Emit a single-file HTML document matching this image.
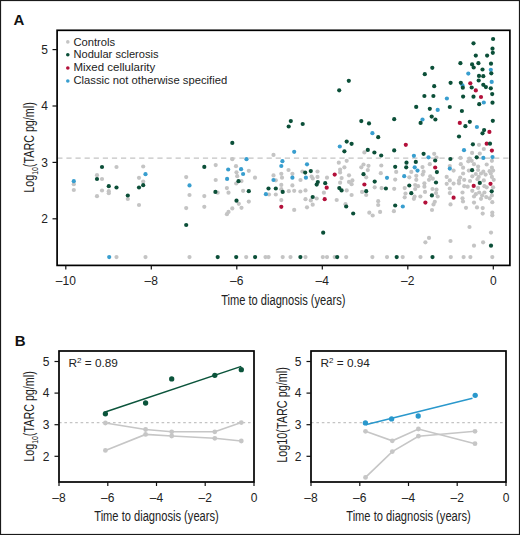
<!DOCTYPE html>
<html><head><meta charset="utf-8"><style>
html,body{margin:0;padding:0;background:#fff;}
body{width:520px;height:535px;overflow:hidden;}
svg{display:block;}
text{font-family:"Liberation Sans", sans-serif;}
</style></head><body>
<svg width="520" height="535" viewBox="0 0 520 535">
<rect x="0" y="0" width="520" height="535" fill="#fff"/>
<rect x="0.5" y="0.5" width="519" height="534" fill="none" stroke="#1a1a1a" stroke-width="1.2"/>
<text x="13.4" y="24.5" font-size="15" font-weight="bold" fill="#111">A</text>
<text x="14.8" y="345.9" font-size="15" font-weight="bold" fill="#111">B</text>

<!-- Panel A -->
<line x1="57.1" x2="509.9" y1="158.2" y2="158.2" stroke="#c4c4c4" stroke-width="1.3" stroke-dasharray="5.2,3.9" stroke-dashoffset="-0.2"/>
<g><circle cx="73.8" cy="184.2" r="2.1" fill="#c4c4c4"/>
<circle cx="73.8" cy="190.0" r="2.1" fill="#c4c4c4"/>
<circle cx="116.5" cy="167.0" r="2.1" fill="#c4c4c4"/>
<circle cx="143.2" cy="166.5" r="2.1" fill="#c4c4c4"/>
<circle cx="97.0" cy="175.2" r="2.1" fill="#c4c4c4"/>
<circle cx="102.0" cy="179.0" r="2.1" fill="#c4c4c4"/>
<circle cx="102.0" cy="190.5" r="2.1" fill="#c4c4c4"/>
<circle cx="108.8" cy="191.2" r="2.1" fill="#c4c4c4"/>
<circle cx="108.8" cy="193.2" r="2.1" fill="#c4c4c4"/>
<circle cx="97.0" cy="196.2" r="2.1" fill="#c4c4c4"/>
<circle cx="127.8" cy="199.0" r="2.1" fill="#c4c4c4"/>
<circle cx="139.0" cy="177.8" r="2.1" fill="#c4c4c4"/>
<circle cx="143.2" cy="181.5" r="2.1" fill="#c4c4c4"/>
<circle cx="139.0" cy="205.0" r="2.1" fill="#c4c4c4"/>
<circle cx="116.5" cy="257.1" r="2.1" fill="#c4c4c4"/>
<circle cx="145.5" cy="257.1" r="2.1" fill="#c4c4c4"/>
<circle cx="232.3" cy="159.2" r="2.1" fill="#c4c4c4"/>
<circle cx="215.7" cy="165.1" r="2.1" fill="#c4c4c4"/>
<circle cx="236.0" cy="166.2" r="2.1" fill="#c4c4c4"/>
<circle cx="248.8" cy="170.8" r="2.1" fill="#c4c4c4"/>
<circle cx="236.5" cy="172.3" r="2.1" fill="#c4c4c4"/>
<circle cx="237.2" cy="176.2" r="2.1" fill="#c4c4c4"/>
<circle cx="186.2" cy="177.1" r="2.1" fill="#c4c4c4"/>
<circle cx="215.7" cy="180.0" r="2.1" fill="#c4c4c4"/>
<circle cx="241.5" cy="181.1" r="2.1" fill="#c4c4c4"/>
<circle cx="236.2" cy="183.5" r="2.1" fill="#c4c4c4"/>
<circle cx="255.0" cy="177.7" r="2.1" fill="#c4c4c4"/>
<circle cx="189.5" cy="195.0" r="2.1" fill="#c4c4c4"/>
<circle cx="204.3" cy="196.1" r="2.1" fill="#c4c4c4"/>
<circle cx="217.7" cy="192.7" r="2.1" fill="#c4c4c4"/>
<circle cx="226.9" cy="188.1" r="2.1" fill="#c4c4c4"/>
<circle cx="228.5" cy="192.7" r="2.1" fill="#c4c4c4"/>
<circle cx="243.1" cy="190.8" r="2.1" fill="#c4c4c4"/>
<circle cx="238.8" cy="203.8" r="2.1" fill="#c4c4c4"/>
<circle cx="248.8" cy="201.6" r="2.1" fill="#c4c4c4"/>
<circle cx="232.3" cy="208.4" r="2.1" fill="#c4c4c4"/>
<circle cx="241.5" cy="207.8" r="2.1" fill="#c4c4c4"/>
<circle cx="186.2" cy="208.1" r="2.1" fill="#c4c4c4"/>
<circle cx="204.3" cy="206.8" r="2.1" fill="#c4c4c4"/>
<circle cx="228.5" cy="211.9" r="2.1" fill="#c4c4c4"/>
<circle cx="226.9" cy="214.2" r="2.1" fill="#c4c4c4"/>
<circle cx="189.5" cy="257.1" r="2.1" fill="#c4c4c4"/>
<circle cx="246.2" cy="257.1" r="2.1" fill="#c4c4c4"/>
<circle cx="273.5" cy="154.9" r="2.1" fill="#c4c4c4"/>
<circle cx="288.5" cy="170.0" r="2.1" fill="#c4c4c4"/>
<circle cx="302.4" cy="171.5" r="2.1" fill="#c4c4c4"/>
<circle cx="317.5" cy="171.5" r="2.1" fill="#c4c4c4"/>
<circle cx="281.3" cy="173.8" r="2.1" fill="#c4c4c4"/>
<circle cx="292.4" cy="173.8" r="2.1" fill="#c4c4c4"/>
<circle cx="273.5" cy="175.4" r="2.1" fill="#c4c4c4"/>
<circle cx="282.0" cy="177.7" r="2.1" fill="#c4c4c4"/>
<circle cx="311.6" cy="176.5" r="2.1" fill="#c4c4c4"/>
<circle cx="312.8" cy="178.5" r="2.1" fill="#c4c4c4"/>
<circle cx="317.5" cy="176.9" r="2.1" fill="#c4c4c4"/>
<circle cx="327.0" cy="177.7" r="2.1" fill="#c4c4c4"/>
<circle cx="275.8" cy="180.3" r="2.1" fill="#c4c4c4"/>
<circle cx="300.5" cy="180.0" r="2.1" fill="#c4c4c4"/>
<circle cx="281.3" cy="184.9" r="2.1" fill="#c4c4c4"/>
<circle cx="292.4" cy="185.4" r="2.1" fill="#c4c4c4"/>
<circle cx="281.3" cy="189.2" r="2.1" fill="#c4c4c4"/>
<circle cx="269.0" cy="194.5" r="2.1" fill="#c4c4c4"/>
<circle cx="275.8" cy="194.5" r="2.1" fill="#c4c4c4"/>
<circle cx="288.8" cy="191.2" r="2.1" fill="#c4c4c4"/>
<circle cx="294.2" cy="190.8" r="2.1" fill="#c4c4c4"/>
<circle cx="300.4" cy="191.5" r="2.1" fill="#c4c4c4"/>
<circle cx="305.5" cy="190.4" r="2.1" fill="#c4c4c4"/>
<circle cx="323.9" cy="192.7" r="2.1" fill="#c4c4c4"/>
<circle cx="316.7" cy="198.5" r="2.1" fill="#c4c4c4"/>
<circle cx="305.5" cy="199.2" r="2.1" fill="#c4c4c4"/>
<circle cx="310.8" cy="200.4" r="2.1" fill="#c4c4c4"/>
<circle cx="312.7" cy="204.7" r="2.1" fill="#c4c4c4"/>
<circle cx="307.0" cy="207.3" r="2.1" fill="#c4c4c4"/>
<circle cx="281.3" cy="200.1" r="2.1" fill="#c4c4c4"/>
<circle cx="294.2" cy="209.9" r="2.1" fill="#c4c4c4"/>
<circle cx="336.7" cy="200.0" r="2.1" fill="#c4c4c4"/>
<circle cx="265.5" cy="257.1" r="2.1" fill="#c4c4c4"/>
<circle cx="268.5" cy="257.1" r="2.1" fill="#c4c4c4"/>
<circle cx="282.7" cy="257.1" r="2.1" fill="#c4c4c4"/>
<circle cx="290.5" cy="257.1" r="2.1" fill="#c4c4c4"/>
<circle cx="305.5" cy="257.1" r="2.1" fill="#c4c4c4"/>
<circle cx="322.8" cy="257.1" r="2.1" fill="#c4c4c4"/>
<circle cx="327.0" cy="257.1" r="2.1" fill="#c4c4c4"/>
<circle cx="334.7" cy="257.1" r="2.1" fill="#c4c4c4"/>
<circle cx="364.4" cy="152.4" r="2.1" fill="#c4c4c4"/>
<circle cx="338.8" cy="162.7" r="2.1" fill="#c4c4c4"/>
<circle cx="346.7" cy="160.8" r="2.1" fill="#c4c4c4"/>
<circle cx="344.4" cy="167.3" r="2.1" fill="#c4c4c4"/>
<circle cx="340.1" cy="169.6" r="2.1" fill="#c4c4c4"/>
<circle cx="340.1" cy="172.4" r="2.1" fill="#c4c4c4"/>
<circle cx="363.5" cy="164.5" r="2.1" fill="#c4c4c4"/>
<circle cx="361.3" cy="167.3" r="2.1" fill="#c4c4c4"/>
<circle cx="368.5" cy="165.8" r="2.1" fill="#c4c4c4"/>
<circle cx="367.8" cy="170.1" r="2.1" fill="#c4c4c4"/>
<circle cx="381.3" cy="165.5" r="2.1" fill="#c4c4c4"/>
<circle cx="396.2" cy="171.9" r="2.1" fill="#c4c4c4"/>
<circle cx="411.3" cy="171.9" r="2.1" fill="#c4c4c4"/>
<circle cx="409.3" cy="177.3" r="2.1" fill="#c4c4c4"/>
<circle cx="366.2" cy="177.3" r="2.1" fill="#c4c4c4"/>
<circle cx="380.8" cy="173.2" r="2.1" fill="#c4c4c4"/>
<circle cx="349.0" cy="175.3" r="2.1" fill="#c4c4c4"/>
<circle cx="341.6" cy="178.1" r="2.1" fill="#c4c4c4"/>
<circle cx="352.4" cy="180.4" r="2.1" fill="#c4c4c4"/>
<circle cx="349.0" cy="181.9" r="2.1" fill="#c4c4c4"/>
<circle cx="351.6" cy="184.2" r="2.1" fill="#c4c4c4"/>
<circle cx="340.1" cy="182.7" r="2.1" fill="#c4c4c4"/>
<circle cx="346.7" cy="190.4" r="2.1" fill="#c4c4c4"/>
<circle cx="374.7" cy="187.3" r="2.1" fill="#c4c4c4"/>
<circle cx="381.6" cy="188.1" r="2.1" fill="#c4c4c4"/>
<circle cx="394.2" cy="188.8" r="2.1" fill="#c4c4c4"/>
<circle cx="395.2" cy="179.6" r="2.1" fill="#c4c4c4"/>
<circle cx="362.1" cy="191.9" r="2.1" fill="#c4c4c4"/>
<circle cx="366.2" cy="195.0" r="2.1" fill="#c4c4c4"/>
<circle cx="351.6" cy="195.0" r="2.1" fill="#c4c4c4"/>
<circle cx="404.7" cy="188.1" r="2.1" fill="#c4c4c4"/>
<circle cx="405.5" cy="193.5" r="2.1" fill="#c4c4c4"/>
<circle cx="404.7" cy="197.3" r="2.1" fill="#c4c4c4"/>
<circle cx="413.9" cy="198.8" r="2.1" fill="#c4c4c4"/>
<circle cx="378.2" cy="201.2" r="2.1" fill="#c4c4c4"/>
<circle cx="378.2" cy="205.0" r="2.1" fill="#c4c4c4"/>
<circle cx="345.5" cy="204.2" r="2.1" fill="#c4c4c4"/>
<circle cx="380.1" cy="211.9" r="2.1" fill="#c4c4c4"/>
<circle cx="369.3" cy="212.7" r="2.1" fill="#c4c4c4"/>
<circle cx="393.9" cy="211.2" r="2.1" fill="#c4c4c4"/>
<circle cx="372.7" cy="215.5" r="2.1" fill="#c4c4c4"/>
<circle cx="346.2" cy="257.1" r="2.1" fill="#c4c4c4"/>
<circle cx="372.4" cy="257.1" r="2.1" fill="#c4c4c4"/>
<circle cx="387.0" cy="257.1" r="2.1" fill="#c4c4c4"/>
<circle cx="402.7" cy="257.1" r="2.1" fill="#c4c4c4"/>
<circle cx="479.0" cy="144.8" r="2.1" fill="#c4c4c4"/>
<circle cx="434.2" cy="153.8" r="2.1" fill="#c4c4c4"/>
<circle cx="436.5" cy="157.5" r="2.1" fill="#c4c4c4"/>
<circle cx="460.5" cy="157.9" r="2.1" fill="#c4c4c4"/>
<circle cx="468.3" cy="161.3" r="2.1" fill="#c4c4c4"/>
<circle cx="429.8" cy="164.2" r="2.1" fill="#c4c4c4"/>
<circle cx="460.8" cy="164.2" r="2.1" fill="#c4c4c4"/>
<circle cx="463.1" cy="167.7" r="2.1" fill="#c4c4c4"/>
<circle cx="422.5" cy="167.1" r="2.1" fill="#c4c4c4"/>
<circle cx="453.6" cy="170.6" r="2.1" fill="#c4c4c4"/>
<circle cx="449.8" cy="166.0" r="2.1" fill="#c4c4c4"/>
<circle cx="423.6" cy="171.7" r="2.1" fill="#c4c4c4"/>
<circle cx="422.7" cy="174.6" r="2.1" fill="#c4c4c4"/>
<circle cx="416.3" cy="175.8" r="2.1" fill="#c4c4c4"/>
<circle cx="463.1" cy="173.5" r="2.1" fill="#c4c4c4"/>
<circle cx="468.8" cy="170.6" r="2.1" fill="#c4c4c4"/>
<circle cx="430.2" cy="176.3" r="2.1" fill="#c4c4c4"/>
<circle cx="446.7" cy="176.9" r="2.1" fill="#c4c4c4"/>
<circle cx="460.2" cy="177.5" r="2.1" fill="#c4c4c4"/>
<circle cx="429.0" cy="179.8" r="2.1" fill="#c4c4c4"/>
<circle cx="432.8" cy="178.7" r="2.1" fill="#c4c4c4"/>
<circle cx="416.3" cy="179.8" r="2.1" fill="#c4c4c4"/>
<circle cx="449.8" cy="180.4" r="2.1" fill="#c4c4c4"/>
<circle cx="459.0" cy="180.4" r="2.1" fill="#c4c4c4"/>
<circle cx="464.2" cy="179.8" r="2.1" fill="#c4c4c4"/>
<circle cx="424.4" cy="183.3" r="2.1" fill="#c4c4c4"/>
<circle cx="446.7" cy="183.8" r="2.1" fill="#c4c4c4"/>
<circle cx="453.6" cy="183.6" r="2.1" fill="#c4c4c4"/>
<circle cx="459.0" cy="183.3" r="2.1" fill="#c4c4c4"/>
<circle cx="415.2" cy="185.0" r="2.1" fill="#c4c4c4"/>
<circle cx="418.1" cy="186.2" r="2.1" fill="#c4c4c4"/>
<circle cx="424.4" cy="186.7" r="2.1" fill="#c4c4c4"/>
<circle cx="432.5" cy="189.0" r="2.1" fill="#c4c4c4"/>
<circle cx="436.5" cy="189.6" r="2.1" fill="#c4c4c4"/>
<circle cx="449.8" cy="188.5" r="2.1" fill="#c4c4c4"/>
<circle cx="464.2" cy="186.2" r="2.1" fill="#c4c4c4"/>
<circle cx="467.7" cy="186.7" r="2.1" fill="#c4c4c4"/>
<circle cx="415.2" cy="189.0" r="2.1" fill="#c4c4c4"/>
<circle cx="425.0" cy="191.9" r="2.1" fill="#c4c4c4"/>
<circle cx="449.8" cy="193.1" r="2.1" fill="#c4c4c4"/>
<circle cx="462.5" cy="192.5" r="2.1" fill="#c4c4c4"/>
<circle cx="436.0" cy="193.1" r="2.1" fill="#c4c4c4"/>
<circle cx="437.7" cy="196.5" r="2.1" fill="#c4c4c4"/>
<circle cx="420.4" cy="196.5" r="2.1" fill="#c4c4c4"/>
<circle cx="414.6" cy="196.5" r="2.1" fill="#c4c4c4"/>
<circle cx="462.5" cy="198.3" r="2.1" fill="#c4c4c4"/>
<circle cx="483.8" cy="149.0" r="2.1" fill="#c4c4c4"/>
<circle cx="472.1" cy="152.9" r="2.1" fill="#c4c4c4"/>
<circle cx="479.8" cy="153.6" r="2.1" fill="#c4c4c4"/>
<circle cx="469.4" cy="158.5" r="2.1" fill="#c4c4c4"/>
<circle cx="471.7" cy="160.8" r="2.1" fill="#c4c4c4"/>
<circle cx="491.9" cy="160.8" r="2.1" fill="#c4c4c4"/>
<circle cx="474.0" cy="164.2" r="2.1" fill="#c4c4c4"/>
<circle cx="478.1" cy="166.5" r="2.1" fill="#c4c4c4"/>
<circle cx="486.7" cy="164.5" r="2.1" fill="#c4c4c4"/>
<circle cx="491.9" cy="167.7" r="2.1" fill="#c4c4c4"/>
<circle cx="493.1" cy="170.6" r="2.1" fill="#c4c4c4"/>
<circle cx="478.1" cy="170.0" r="2.1" fill="#c4c4c4"/>
<circle cx="483.3" cy="171.7" r="2.1" fill="#c4c4c4"/>
<circle cx="489.6" cy="171.2" r="2.1" fill="#c4c4c4"/>
<circle cx="475.8" cy="174.0" r="2.1" fill="#c4c4c4"/>
<circle cx="481.0" cy="173.5" r="2.1" fill="#c4c4c4"/>
<circle cx="485.6" cy="174.6" r="2.1" fill="#c4c4c4"/>
<circle cx="490.8" cy="173.5" r="2.1" fill="#c4c4c4"/>
<circle cx="472.3" cy="176.3" r="2.1" fill="#c4c4c4"/>
<circle cx="478.7" cy="176.9" r="2.1" fill="#c4c4c4"/>
<circle cx="491.9" cy="176.9" r="2.1" fill="#c4c4c4"/>
<circle cx="470.0" cy="181.0" r="2.1" fill="#c4c4c4"/>
<circle cx="483.8" cy="180.4" r="2.1" fill="#c4c4c4"/>
<circle cx="477.5" cy="179.2" r="2.1" fill="#c4c4c4"/>
<circle cx="493.7" cy="179.8" r="2.1" fill="#c4c4c4"/>
<circle cx="484.4" cy="186.2" r="2.1" fill="#c4c4c4"/>
<circle cx="486.7" cy="187.3" r="2.1" fill="#c4c4c4"/>
<circle cx="478.1" cy="187.9" r="2.1" fill="#c4c4c4"/>
<circle cx="493.1" cy="187.3" r="2.1" fill="#c4c4c4"/>
<circle cx="472.3" cy="190.8" r="2.1" fill="#c4c4c4"/>
<circle cx="479.2" cy="192.5" r="2.1" fill="#c4c4c4"/>
<circle cx="484.4" cy="192.5" r="2.1" fill="#c4c4c4"/>
<circle cx="475.8" cy="194.2" r="2.1" fill="#c4c4c4"/>
<circle cx="474.0" cy="196.5" r="2.1" fill="#c4c4c4"/>
<circle cx="482.1" cy="195.4" r="2.1" fill="#c4c4c4"/>
<circle cx="486.2" cy="197.1" r="2.1" fill="#c4c4c4"/>
<circle cx="491.9" cy="195.4" r="2.1" fill="#c4c4c4"/>
<circle cx="481.0" cy="198.8" r="2.1" fill="#c4c4c4"/>
<circle cx="489.6" cy="198.3" r="2.1" fill="#c4c4c4"/>
<circle cx="434.8" cy="201.8" r="2.1" fill="#c4c4c4"/>
<circle cx="433.5" cy="204.4" r="2.1" fill="#c4c4c4"/>
<circle cx="432.0" cy="210.0" r="2.1" fill="#c4c4c4"/>
<circle cx="463.0" cy="201.5" r="2.1" fill="#c4c4c4"/>
<circle cx="450.5" cy="204.4" r="2.1" fill="#c4c4c4"/>
<circle cx="466.0" cy="207.8" r="2.1" fill="#c4c4c4"/>
<circle cx="469.5" cy="227.0" r="2.1" fill="#c4c4c4"/>
<circle cx="429.0" cy="237.9" r="2.1" fill="#c4c4c4"/>
<circle cx="425.4" cy="242.3" r="2.1" fill="#c4c4c4"/>
<circle cx="450.5" cy="241.0" r="2.1" fill="#c4c4c4"/>
<circle cx="420.5" cy="257.1" r="2.1" fill="#c4c4c4"/>
<circle cx="450.8" cy="257.1" r="2.1" fill="#c4c4c4"/>
<circle cx="463.6" cy="257.1" r="2.1" fill="#c4c4c4"/>
<circle cx="474.0" cy="202.6" r="2.1" fill="#c4c4c4"/>
<circle cx="492.3" cy="202.2" r="2.1" fill="#c4c4c4"/>
<circle cx="477.0" cy="207.4" r="2.1" fill="#c4c4c4"/>
<circle cx="482.7" cy="208.1" r="2.1" fill="#c4c4c4"/>
<circle cx="482.7" cy="213.6" r="2.1" fill="#c4c4c4"/>
<circle cx="492.3" cy="212.6" r="2.1" fill="#c4c4c4"/>
<circle cx="492.3" cy="215.3" r="2.1" fill="#c4c4c4"/>
<circle cx="491.0" cy="232.6" r="2.1" fill="#c4c4c4"/>
<circle cx="483.1" cy="242.3" r="2.1" fill="#c4c4c4"/>
<circle cx="474.0" cy="245.7" r="2.1" fill="#c4c4c4"/>
<circle cx="470.4" cy="257.1" r="2.1" fill="#c4c4c4"/>
<circle cx="492.3" cy="257.1" r="2.1" fill="#c4c4c4"/>
<circle cx="73.8" cy="181.2" r="2.1" fill="#389ecf"/>
<circle cx="145.5" cy="174.2" r="2.1" fill="#389ecf"/>
<circle cx="109.2" cy="257.1" r="2.1" fill="#389ecf"/>
<circle cx="246.5" cy="159.2" r="2.1" fill="#389ecf"/>
<circle cx="228.2" cy="169.5" r="2.1" fill="#389ecf"/>
<circle cx="241.1" cy="169.2" r="2.1" fill="#389ecf"/>
<circle cx="243.1" cy="174.0" r="2.1" fill="#389ecf"/>
<circle cx="227.1" cy="178.9" r="2.1" fill="#389ecf"/>
<circle cx="189.5" cy="185.4" r="2.1" fill="#389ecf"/>
<circle cx="294.2" cy="151.8" r="2.1" fill="#389ecf"/>
<circle cx="282.4" cy="161.2" r="2.1" fill="#389ecf"/>
<circle cx="281.3" cy="166.0" r="2.1" fill="#389ecf"/>
<circle cx="307.0" cy="164.3" r="2.1" fill="#389ecf"/>
<circle cx="292.4" cy="177.7" r="2.1" fill="#389ecf"/>
<circle cx="305.9" cy="177.7" r="2.1" fill="#389ecf"/>
<circle cx="273.5" cy="180.0" r="2.1" fill="#389ecf"/>
<circle cx="265.9" cy="194.2" r="2.1" fill="#389ecf"/>
<circle cx="372.4" cy="133.2" r="2.1" fill="#389ecf"/>
<circle cx="339.8" cy="146.5" r="2.1" fill="#389ecf"/>
<circle cx="413.9" cy="155.8" r="2.1" fill="#389ecf"/>
<circle cx="414.7" cy="167.3" r="2.1" fill="#389ecf"/>
<circle cx="404.2" cy="176.2" r="2.1" fill="#389ecf"/>
<circle cx="387.0" cy="177.8" r="2.1" fill="#389ecf"/>
<circle cx="402.8" cy="206.5" r="2.1" fill="#389ecf"/>
<circle cx="462.5" cy="85.4" r="2.1" fill="#389ecf"/>
<circle cx="490.8" cy="69.8" r="2.1" fill="#389ecf"/>
<circle cx="468.3" cy="73.6" r="2.1" fill="#389ecf"/>
<circle cx="491.7" cy="81.9" r="2.1" fill="#389ecf"/>
<circle cx="483.8" cy="102.5" r="2.1" fill="#389ecf"/>
<circle cx="476.9" cy="127.0" r="2.1" fill="#389ecf"/>
<circle cx="446.9" cy="98.5" r="2.1" fill="#389ecf"/>
<circle cx="437.7" cy="109.9" r="2.1" fill="#389ecf"/>
<circle cx="422.5" cy="119.5" r="2.1" fill="#389ecf"/>
<circle cx="464.0" cy="150.2" r="2.1" fill="#389ecf"/>
<circle cx="428.5" cy="157.3" r="2.1" fill="#389ecf"/>
<circle cx="417.5" cy="170.6" r="2.1" fill="#389ecf"/>
<circle cx="449.8" cy="168.6" r="2.1" fill="#389ecf"/>
<circle cx="483.3" cy="157.9" r="2.1" fill="#389ecf"/>
<circle cx="492.5" cy="157.1" r="2.1" fill="#389ecf"/>
<circle cx="334.7" cy="174.6" r="2.1" fill="#b3103a"/>
<circle cx="326.7" cy="187.7" r="2.1" fill="#b3103a"/>
<circle cx="324.7" cy="199.2" r="2.1" fill="#b3103a"/>
<circle cx="281.3" cy="206.8" r="2.1" fill="#b3103a"/>
<circle cx="405.8" cy="144.8" r="2.1" fill="#b3103a"/>
<circle cx="364.4" cy="184.5" r="2.1" fill="#b3103a"/>
<circle cx="470.3" cy="83.3" r="2.1" fill="#b3103a"/>
<circle cx="475.8" cy="90.4" r="2.1" fill="#b3103a"/>
<circle cx="481.0" cy="97.0" r="2.1" fill="#b3103a"/>
<circle cx="489.4" cy="131.9" r="2.1" fill="#b3103a"/>
<circle cx="486.7" cy="143.7" r="2.1" fill="#b3103a"/>
<circle cx="459.8" cy="122.9" r="2.1" fill="#b3103a"/>
<circle cx="435.2" cy="167.5" r="2.1" fill="#b3103a"/>
<circle cx="453.6" cy="197.7" r="2.1" fill="#b3103a"/>
<circle cx="491.9" cy="150.6" r="2.1" fill="#b3103a"/>
<circle cx="490.5" cy="183.8" r="2.1" fill="#b3103a"/>
<circle cx="473.7" cy="185.9" r="2.1" fill="#b3103a"/>
<circle cx="425.4" cy="202.6" r="2.1" fill="#b3103a"/>
<circle cx="102.0" cy="167.0" r="2.1" fill="#0b4f38"/>
<circle cx="97.0" cy="179.0" r="2.1" fill="#0b4f38"/>
<circle cx="108.8" cy="186.2" r="2.1" fill="#0b4f38"/>
<circle cx="116.5" cy="187.5" r="2.1" fill="#0b4f38"/>
<circle cx="127.8" cy="195.5" r="2.1" fill="#0b4f38"/>
<circle cx="139.0" cy="187.5" r="2.1" fill="#0b4f38"/>
<circle cx="143.2" cy="185.2" r="2.1" fill="#0b4f38"/>
<circle cx="232.3" cy="142.9" r="2.1" fill="#0b4f38"/>
<circle cx="204.3" cy="166.9" r="2.1" fill="#0b4f38"/>
<circle cx="238.5" cy="181.2" r="2.1" fill="#0b4f38"/>
<circle cx="215.4" cy="191.9" r="2.1" fill="#0b4f38"/>
<circle cx="248.8" cy="191.2" r="2.1" fill="#0b4f38"/>
<circle cx="236.5" cy="200.7" r="2.1" fill="#0b4f38"/>
<circle cx="186.2" cy="225.0" r="2.1" fill="#0b4f38"/>
<circle cx="217.7" cy="257.1" r="2.1" fill="#0b4f38"/>
<circle cx="236.2" cy="257.1" r="2.1" fill="#0b4f38"/>
<circle cx="255.1" cy="257.1" r="2.1" fill="#0b4f38"/>
<circle cx="290.8" cy="121.1" r="2.1" fill="#0b4f38"/>
<circle cx="288.7" cy="126.5" r="2.1" fill="#0b4f38"/>
<circle cx="302.7" cy="124.0" r="2.1" fill="#0b4f38"/>
<circle cx="305.2" cy="172.6" r="2.1" fill="#0b4f38"/>
<circle cx="310.8" cy="171.1" r="2.1" fill="#0b4f38"/>
<circle cx="317.8" cy="182.0" r="2.1" fill="#0b4f38"/>
<circle cx="316.7" cy="184.6" r="2.1" fill="#0b4f38"/>
<circle cx="325.2" cy="183.2" r="2.1" fill="#0b4f38"/>
<circle cx="268.5" cy="188.5" r="2.1" fill="#0b4f38"/>
<circle cx="275.8" cy="188.5" r="2.1" fill="#0b4f38"/>
<circle cx="282.7" cy="191.9" r="2.1" fill="#0b4f38"/>
<circle cx="312.7" cy="197.0" r="2.1" fill="#0b4f38"/>
<circle cx="323.2" cy="232.7" r="2.1" fill="#0b4f38"/>
<circle cx="300.4" cy="257.1" r="2.1" fill="#0b4f38"/>
<circle cx="337.2" cy="257.1" r="2.1" fill="#0b4f38"/>
<circle cx="348.8" cy="80.8" r="2.1" fill="#0b4f38"/>
<circle cx="339.2" cy="90.3" r="2.1" fill="#0b4f38"/>
<circle cx="361.3" cy="121.1" r="2.1" fill="#0b4f38"/>
<circle cx="369.0" cy="123.4" r="2.1" fill="#0b4f38"/>
<circle cx="378.2" cy="137.2" r="2.1" fill="#0b4f38"/>
<circle cx="394.2" cy="119.2" r="2.1" fill="#0b4f38"/>
<circle cx="416.2" cy="106.9" r="2.1" fill="#0b4f38"/>
<circle cx="346.7" cy="141.6" r="2.1" fill="#0b4f38"/>
<circle cx="351.6" cy="143.8" r="2.1" fill="#0b4f38"/>
<circle cx="344.4" cy="151.3" r="2.1" fill="#0b4f38"/>
<circle cx="367.8" cy="149.9" r="2.1" fill="#0b4f38"/>
<circle cx="374.4" cy="152.5" r="2.1" fill="#0b4f38"/>
<circle cx="381.2" cy="155.5" r="2.1" fill="#0b4f38"/>
<circle cx="394.2" cy="150.4" r="2.1" fill="#0b4f38"/>
<circle cx="395.2" cy="166.8" r="2.1" fill="#0b4f38"/>
<circle cx="406.5" cy="162.7" r="2.1" fill="#0b4f38"/>
<circle cx="406.2" cy="167.3" r="2.1" fill="#0b4f38"/>
<circle cx="415.8" cy="161.9" r="2.1" fill="#0b4f38"/>
<circle cx="363.5" cy="174.2" r="2.1" fill="#0b4f38"/>
<circle cx="339.3" cy="188.1" r="2.1" fill="#0b4f38"/>
<circle cx="341.6" cy="190.4" r="2.1" fill="#0b4f38"/>
<circle cx="374.7" cy="181.6" r="2.1" fill="#0b4f38"/>
<circle cx="385.9" cy="188.5" r="2.1" fill="#0b4f38"/>
<circle cx="366.2" cy="191.2" r="2.1" fill="#0b4f38"/>
<circle cx="409.3" cy="185.5" r="2.1" fill="#0b4f38"/>
<circle cx="411.3" cy="193.2" r="2.1" fill="#0b4f38"/>
<circle cx="346.2" cy="206.5" r="2.1" fill="#0b4f38"/>
<circle cx="395.2" cy="205.5" r="2.1" fill="#0b4f38"/>
<circle cx="353.2" cy="213.5" r="2.1" fill="#0b4f38"/>
<circle cx="396.7" cy="257.1" r="2.1" fill="#0b4f38"/>
<circle cx="460.4" cy="63.2" r="2.1" fill="#0b4f38"/>
<circle cx="432.3" cy="67.8" r="2.1" fill="#0b4f38"/>
<circle cx="424.8" cy="74.2" r="2.1" fill="#0b4f38"/>
<circle cx="450.6" cy="82.8" r="2.1" fill="#0b4f38"/>
<circle cx="460.8" cy="82.8" r="2.1" fill="#0b4f38"/>
<circle cx="462.8" cy="87.7" r="2.1" fill="#0b4f38"/>
<circle cx="434.2" cy="86.2" r="2.1" fill="#0b4f38"/>
<circle cx="493.1" cy="39.0" r="2.1" fill="#0b4f38"/>
<circle cx="473.5" cy="43.3" r="2.1" fill="#0b4f38"/>
<circle cx="492.5" cy="48.7" r="2.1" fill="#0b4f38"/>
<circle cx="492.8" cy="52.8" r="2.1" fill="#0b4f38"/>
<circle cx="475.8" cy="55.6" r="2.1" fill="#0b4f38"/>
<circle cx="487.1" cy="55.6" r="2.1" fill="#0b4f38"/>
<circle cx="472.1" cy="64.4" r="2.1" fill="#0b4f38"/>
<circle cx="473.7" cy="67.5" r="2.1" fill="#0b4f38"/>
<circle cx="478.4" cy="63.2" r="2.1" fill="#0b4f38"/>
<circle cx="491.0" cy="63.7" r="2.1" fill="#0b4f38"/>
<circle cx="491.3" cy="73.3" r="2.1" fill="#0b4f38"/>
<circle cx="482.5" cy="69.5" r="2.1" fill="#0b4f38"/>
<circle cx="479.0" cy="75.9" r="2.1" fill="#0b4f38"/>
<circle cx="483.3" cy="76.2" r="2.1" fill="#0b4f38"/>
<circle cx="478.7" cy="80.5" r="2.1" fill="#0b4f38"/>
<circle cx="483.3" cy="84.8" r="2.1" fill="#0b4f38"/>
<circle cx="485.9" cy="87.1" r="2.1" fill="#0b4f38"/>
<circle cx="471.7" cy="87.5" r="2.1" fill="#0b4f38"/>
<circle cx="490.8" cy="88.3" r="2.1" fill="#0b4f38"/>
<circle cx="492.2" cy="94.1" r="2.1" fill="#0b4f38"/>
<circle cx="473.5" cy="96.7" r="2.1" fill="#0b4f38"/>
<circle cx="479.2" cy="104.2" r="2.1" fill="#0b4f38"/>
<circle cx="492.5" cy="102.7" r="2.1" fill="#0b4f38"/>
<circle cx="469.8" cy="121.8" r="2.1" fill="#0b4f38"/>
<circle cx="492.8" cy="120.8" r="2.1" fill="#0b4f38"/>
<circle cx="484.1" cy="130.1" r="2.1" fill="#0b4f38"/>
<circle cx="482.5" cy="133.3" r="2.1" fill="#0b4f38"/>
<circle cx="472.9" cy="144.3" r="2.1" fill="#0b4f38"/>
<circle cx="490.0" cy="143.7" r="2.1" fill="#0b4f38"/>
<circle cx="424.4" cy="96.0" r="2.1" fill="#0b4f38"/>
<circle cx="433.4" cy="96.0" r="2.1" fill="#0b4f38"/>
<circle cx="463.1" cy="96.6" r="2.1" fill="#0b4f38"/>
<circle cx="429.8" cy="108.8" r="2.1" fill="#0b4f38"/>
<circle cx="449.8" cy="107.0" r="2.1" fill="#0b4f38"/>
<circle cx="461.9" cy="111.0" r="2.1" fill="#0b4f38"/>
<circle cx="431.7" cy="116.6" r="2.1" fill="#0b4f38"/>
<circle cx="435.4" cy="119.5" r="2.1" fill="#0b4f38"/>
<circle cx="420.6" cy="122.9" r="2.1" fill="#0b4f38"/>
<circle cx="465.4" cy="126.2" r="2.1" fill="#0b4f38"/>
<circle cx="459.0" cy="136.5" r="2.1" fill="#0b4f38"/>
<circle cx="423.6" cy="153.8" r="2.1" fill="#0b4f38"/>
<circle cx="435.2" cy="160.5" r="2.1" fill="#0b4f38"/>
<circle cx="450.4" cy="159.0" r="2.1" fill="#0b4f38"/>
<circle cx="436.9" cy="172.1" r="2.1" fill="#0b4f38"/>
<circle cx="436.0" cy="182.5" r="2.1" fill="#0b4f38"/>
<circle cx="431.9" cy="195.4" r="2.1" fill="#0b4f38"/>
<circle cx="476.7" cy="157.3" r="2.1" fill="#0b4f38"/>
<circle cx="472.1" cy="170.2" r="2.1" fill="#0b4f38"/>
<circle cx="479.8" cy="182.9" r="2.1" fill="#0b4f38"/>
<circle cx="491.7" cy="191.3" r="2.1" fill="#0b4f38"/>
<circle cx="432.5" cy="257.1" r="2.1" fill="#0b4f38"/>
<circle cx="491.0" cy="245.7" r="2.1" fill="#0b4f38"/></g>
<rect x="57.1" y="30.3" width="452.79999999999995" height="235.09999999999997" fill="none" stroke="#000" stroke-width="1.7"/>
<g stroke="#111" stroke-width="1.2"><line x1="52.5" x2="57.1" y1="218.8" y2="218.8"/><line x1="52.5" x2="57.1" y1="162.4" y2="162.4"/><line x1="52.5" x2="57.1" y1="106.0" y2="106.0"/><line x1="52.5" x2="57.1" y1="49.6" y2="49.6"/><line x1="65.8" x2="65.8" y1="265.4" y2="269.4"/><line x1="151.3" x2="151.3" y1="265.4" y2="269.4"/><line x1="236.8" x2="236.8" y1="265.4" y2="269.4"/><line x1="322.3" x2="322.3" y1="265.4" y2="269.4"/><line x1="407.8" x2="407.8" y1="265.4" y2="269.4"/><line x1="493.3" x2="493.3" y1="265.4" y2="269.4"/></g>
<g font-size="12" fill="#222"><text x="48" y="223.0" text-anchor="end">2</text><text x="48" y="166.6" text-anchor="end">3</text><text x="48" y="110.2" text-anchor="end">4</text><text x="48" y="53.8" text-anchor="end">5</text><text x="65.8" y="285" text-anchor="middle">–10</text><text x="151.3" y="285" text-anchor="middle">–8</text><text x="236.8" y="285" text-anchor="middle">–6</text><text x="322.3" y="285" text-anchor="middle">–4</text><text x="407.8" y="285" text-anchor="middle">–2</text><text x="493.3" y="285" text-anchor="middle">0</text></g>
<text x="283.3" y="304.5" font-size="14" fill="#222" text-anchor="middle" textLength="124.2" lengthAdjust="spacingAndGlyphs">Time to diagnosis (years)</text>
<g transform="translate(33.9,147.5) rotate(-90)"><text x="0" y="0" font-size="14" fill="#222" text-anchor="middle" textLength="90.5" lengthAdjust="spacingAndGlyphs">Log<tspan font-size="9" dy="4">10</tspan><tspan dy="-4">(TARC pg/ml)</tspan></text></g>
<!-- legend -->
<g font-size="11.8" fill="#222">
<circle cx="67.8" cy="41.9" r="1.8" fill="#c4c4c4"/><text x="73.4" y="45.6" textLength="41.8" lengthAdjust="spacingAndGlyphs">Controls</text>
<circle cx="67.8" cy="54.8" r="1.8" fill="#0b4f38"/><text x="73.5" y="58.3" textLength="85" lengthAdjust="spacingAndGlyphs">Nodular sclerosis</text>
<circle cx="67.8" cy="68" r="1.8" fill="#b3103a"/><text x="73.5" y="71.1" textLength="81.7" lengthAdjust="spacingAndGlyphs">Mixed cellularity</text>
<circle cx="67.8" cy="81" r="1.8" fill="#389ecf"/><text x="73.4" y="83.9" textLength="153.8" lengthAdjust="spacingAndGlyphs">Classic not otherwise specified</text>
</g>
<line x1="59" x2="254" y1="422.6" y2="422.6" stroke="#c4c4c4" stroke-width="1.2" stroke-dasharray="2.6,2.8"/>
<polyline fill="none" stroke="#c6c6c6" stroke-width="1.6" points="105.4,423 145.6,429.5 171.7,431.8 214.8,431.8 241.3,422.6"/>
<circle cx="105.4" cy="423" r="2.4" fill="#c6c6c6"/>
<circle cx="145.6" cy="429.5" r="2.4" fill="#c6c6c6"/>
<circle cx="171.7" cy="431.8" r="2.4" fill="#c6c6c6"/>
<circle cx="214.8" cy="431.8" r="2.4" fill="#c6c6c6"/>
<circle cx="241.3" cy="422.6" r="2.4" fill="#c6c6c6"/>
<polyline fill="none" stroke="#c6c6c6" stroke-width="1.6" points="105.4,450.4 145.6,434.4 171.7,436 214.8,438.3 241.3,441"/>
<circle cx="105.4" cy="450.4" r="2.4" fill="#c6c6c6"/>
<circle cx="145.6" cy="434.4" r="2.4" fill="#c6c6c6"/>
<circle cx="171.7" cy="436" r="2.4" fill="#c6c6c6"/>
<circle cx="214.8" cy="438.3" r="2.4" fill="#c6c6c6"/>
<circle cx="241.3" cy="441" r="2.4" fill="#c6c6c6"/>
<line x1="103.7" y1="412.5" x2="241.3" y2="366.4" stroke="#0b543b" stroke-width="1.5"/>
<circle cx="105.4" cy="413.8" r="2.65" fill="#0b543b"/>
<circle cx="145.6" cy="403" r="2.65" fill="#0b543b"/>
<circle cx="171.7" cy="378.9" r="2.65" fill="#0b543b"/>
<circle cx="214.8" cy="375.3" r="2.65" fill="#0b543b"/>
<circle cx="241.3" cy="369.7" r="2.65" fill="#0b543b"/>
<rect x="59" y="351" width="195" height="131" fill="none" stroke="#000" stroke-width="1.7"/>
<g stroke="#111" stroke-width="1.2"><line x1="54.5" x2="59" y1="456.3" y2="456.3"/><line x1="54.5" x2="59" y1="424.7" y2="424.7"/><line x1="54.5" x2="59" y1="393.1" y2="393.1"/><line x1="54.5" x2="59" y1="361.5" y2="361.5"/><line x1="59.0" x2="59.0" y1="482" y2="486"/><line x1="107.8" x2="107.8" y1="482" y2="486"/><line x1="156.5" x2="156.5" y1="482" y2="486"/><line x1="205.2" x2="205.2" y1="482" y2="486"/><line x1="254.0" x2="254.0" y1="482" y2="486"/></g>
<g font-size="12" fill="#222"><text x="49.5" y="460.5" text-anchor="end">2</text><text x="49.5" y="428.9" text-anchor="end">3</text><text x="49.5" y="397.3" text-anchor="end">4</text><text x="49.5" y="365.7" text-anchor="end">5</text><text x="59.0" y="502" text-anchor="middle">–8</text><text x="107.8" y="502" text-anchor="middle">–6</text><text x="156.5" y="502" text-anchor="middle">–4</text><text x="205.2" y="502" text-anchor="middle">–2</text><text x="254.0" y="502" text-anchor="middle">0</text></g>
<text x="156.5" y="521.2" font-size="14" fill="#222" text-anchor="middle" textLength="124.5" lengthAdjust="spacingAndGlyphs">Time to diagnosis (years)</text>
<text x="68.5" y="367.1" font-size="11.8" fill="#222">R<tspan font-size="8" dy="-4.5">2</tspan><tspan dy="4.5"> = 0.89</tspan></text>
<g transform="translate(33.9,416.5) rotate(-90)"><text x="0" y="0" font-size="14" fill="#222" text-anchor="middle" textLength="90.5" lengthAdjust="spacingAndGlyphs">Log<tspan font-size="9" dy="4">10</tspan><tspan dy="-4">(TARC pg/ml)</tspan></text></g>
<line x1="311" x2="506" y1="422.6" y2="422.6" stroke="#c4c4c4" stroke-width="1.2" stroke-dasharray="2.6,2.8"/>
<polyline fill="none" stroke="#c6c6c6" stroke-width="1.6" points="365.5,431.3 392.3,440.8 418.4,429 475,443.7"/>
<circle cx="365.5" cy="431.3" r="2.4" fill="#c6c6c6"/>
<circle cx="392.3" cy="440.8" r="2.4" fill="#c6c6c6"/>
<circle cx="418.4" cy="429" r="2.4" fill="#c6c6c6"/>
<circle cx="475" cy="443.7" r="2.4" fill="#c6c6c6"/>
<polyline fill="none" stroke="#c6c6c6" stroke-width="1.6" points="365.5,477.4 392.3,451.6 418.4,436.2 475,431.3"/>
<circle cx="365.5" cy="477.4" r="2.4" fill="#c6c6c6"/>
<circle cx="392.3" cy="451.6" r="2.4" fill="#c6c6c6"/>
<circle cx="418.4" cy="436.2" r="2.4" fill="#c6c6c6"/>
<circle cx="475" cy="431.3" r="2.4" fill="#c6c6c6"/>
<line x1="365.6" y1="424.7" x2="472.5" y2="398.3" stroke="#2a98cc" stroke-width="1.5"/>
<circle cx="365.4" cy="422.9" r="2.65" fill="#2a98cc"/>
<circle cx="391.6" cy="418.9" r="2.65" fill="#2a98cc"/>
<circle cx="418.2" cy="416" r="2.65" fill="#2a98cc"/>
<circle cx="475.2" cy="395.3" r="2.65" fill="#2a98cc"/>
<rect x="311" y="351" width="195" height="131" fill="none" stroke="#000" stroke-width="1.7"/>
<g stroke="#111" stroke-width="1.2"><line x1="306.5" x2="311" y1="456.3" y2="456.3"/><line x1="306.5" x2="311" y1="424.7" y2="424.7"/><line x1="306.5" x2="311" y1="393.1" y2="393.1"/><line x1="306.5" x2="311" y1="361.5" y2="361.5"/><line x1="311.0" x2="311.0" y1="482" y2="486"/><line x1="359.8" x2="359.8" y1="482" y2="486"/><line x1="408.5" x2="408.5" y1="482" y2="486"/><line x1="457.2" x2="457.2" y1="482" y2="486"/><line x1="506.0" x2="506.0" y1="482" y2="486"/></g>
<g font-size="12" fill="#222"><text x="301.5" y="460.5" text-anchor="end">2</text><text x="301.5" y="428.9" text-anchor="end">3</text><text x="301.5" y="397.3" text-anchor="end">4</text><text x="301.5" y="365.7" text-anchor="end">5</text><text x="311.0" y="502" text-anchor="middle">–8</text><text x="359.8" y="502" text-anchor="middle">–6</text><text x="408.5" y="502" text-anchor="middle">–4</text><text x="457.2" y="502" text-anchor="middle">–2</text><text x="506.0" y="502" text-anchor="middle">0</text></g>
<text x="408.5" y="521.2" font-size="14" fill="#222" text-anchor="middle" textLength="124.5" lengthAdjust="spacingAndGlyphs">Time to diagnosis (years)</text>
<text x="320.5" y="367.1" font-size="11.8" fill="#222">R<tspan font-size="8" dy="-4.5">2</tspan><tspan dy="4.5"> = 0.94</tspan></text>
<g transform="translate(286.7,415) rotate(-90)"><text x="0" y="0" font-size="14.6" fill="#222" text-anchor="middle" textLength="95.6" lengthAdjust="spacingAndGlyphs">Log10(TARC pg/ml)</text></g>
</svg>
</body></html>
